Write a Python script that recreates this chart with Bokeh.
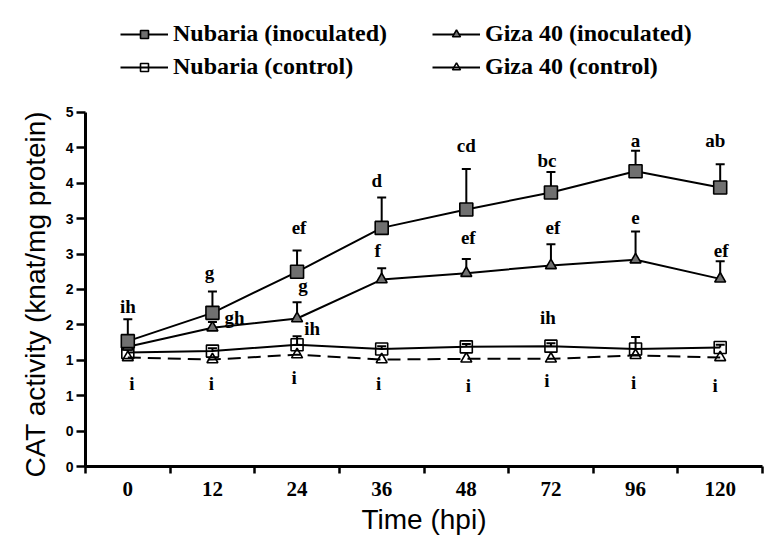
from bokeh.plotting import figure
from bokeh.models import (ColumnDataSource, Range1d, FixedTicker, CustomJSTickFormatter,
                          Whisker, TeeHead, Legend, LegendItem, Title)
from bokeh.core.properties import value
from bokeh.embed import file_html
from bokeh.resources import INLINE

# ---------------- data ----------------
hours = ["0", "12", "24", "36", "48", "72", "96", "120"]

nub_inoc = [1.77, 2.17, 2.75, 3.37, 3.63, 3.87, 4.17, 3.94]
nub_inoc_err = [0.31, 0.30, 0.30, 0.43, 0.57, 0.29, 0.29, 0.33]

giza_inoc = [1.69, 1.96, 2.09, 2.64, 2.73, 2.84, 2.92, 2.65]
giza_inoc_err = [0.06, 0.08, 0.23, 0.16, 0.20, 0.30, 0.40, 0.25]

nub_ctrl = [1.61, 1.63, 1.72, 1.66, 1.69, 1.70, 1.66, 1.68]
nub_ctrl_err = [0.04, 0.04, 0.12, 0.04, 0.04, 0.04, 0.17, 0.04]

giza_ctrl = [1.54, 1.51, 1.58, 1.51, 1.52, 1.52, 1.57, 1.54]

# letter annotations: text, category index, x offset (px), y position
ann_text = ["ih", "g", "ef", "d", "cd", "bc", "a", "ab",
            "gh", "g", "f", "ef", "ef", "e", "ef",
            "ih", "ih",
            "i", "i", "i", "i", "i", "i", "i", "i"]
ann_idx = [0, 1, 2, 3, 4, 5, 6, 7,
           1, 2, 3, 4, 5, 6, 7,
           2, 5,
           0, 1, 2, 3, 4, 5, 6, 7]
ann_dx = [0, -3, 2, -5, 0, -4, 0, -5,
          22, 6, -4, 2, 2, 0, 1,
          15, -3,
          4, -1, -3, -3, 2, -4, -2, -5]
ann_y = [2.26, 2.74, 3.38, 4.04, 4.53, 4.32, 4.60, 4.60,
         2.10, 2.56, 3.05, 3.23, 3.38, 3.52, 3.05,
         1.95, 2.10,
         1.17, 1.17, 1.26, 1.17, 1.14, 1.21, 1.19, 1.14]

y_ticks = [0, 0.5, 1, 1.5, 2, 2.5, 3, 3.5, 4, 4.5, 5]

# ---------------- figure ----------------
xc = [i + 0.5 for i in range(len(hours))]

p = figure(width=771, height=543, output_backend="svg", toolbar_location=None,
           x_range=Range1d(0, len(hours)), y_range=Range1d(0, 6.44),
           min_border_left=85, min_border_right=9, min_border_top=10, min_border_bottom=77)
p.outline_line_color = None
p.xgrid.visible = False
p.ygrid.visible = False
p.background_fill_color = "white"

src = ColumnDataSource(dict(x=xc, hours=hours,
                            ni=nub_inoc, ni_up=[v + e for v, e in zip(nub_inoc, nub_inoc_err)],
                            gi=giza_inoc, gi_up=[v + e for v, e in zip(giza_inoc, giza_inoc_err)],
                            nc=nub_ctrl, nc_up=[v + e for v, e in zip(nub_ctrl, nub_ctrl_err)],
                            gc=giza_ctrl))

# error bars (drawn under)
for base, up in [("ni", "ni_up"), ("gi", "gi_up"), ("nc", "nc_up")]:
    w = Whisker(source=src, base="x", lower=base, upper=up, dimension="height",
                line_color="black", line_width=2,
                upper_head=TeeHead(size=9, line_width=2, line_color="black"),
                lower_head=None, level="underlay")
    p.add_layout(w)

# lines
l_gc = p.line("x", "gc", source=src, line_color="black", line_width=2, line_dash="13 7")
l_nc = p.line("x", "nc", source=src, line_color="black", line_width=2)
l_gi = p.line("x", "gi", source=src, line_color="black", line_width=2)
l_ni = p.line("x", "ni", source=src, line_color="black", line_width=2)
# solid line used only for the legend swatch of Giza 40 (control); it has no drawable point
nan = float("nan")
l_gc_key = p.line(x=[nan, nan], y=[nan, nan], line_color="black", line_width=2)

# markers
m_gc = p.scatter("x", "gc", source=src, marker="triangle", size=11, fill_alpha=0,
                 line_color="black", line_width=1.6)
m_nc = p.scatter("x", "nc", source=src, marker="square", size=12, fill_alpha=0,
                 line_color="black", line_width=1.6)
m_gi = p.scatter("x", "gi", source=src, marker="triangle", size=11, fill_color="#707070",
                 line_color="black", line_width=1.6)
m_ni = p.scatter("x", "ni", source=src, marker="square", size=13, fill_color="#707070",
                 line_color="black", line_width=1.6)

# letter annotations
asrc = ColumnDataSource(dict(x=[ann_idx[i] + 0.5 for i in range(len(ann_idx))],
                             y=ann_y, t=ann_text, dx=ann_dx))
p.text("x", "y", text="t", source=asrc, x_offset="dx", text_align="center",
       text_baseline="middle", text_font=value("Liberation Serif"),
       text_font_style="bold", text_font_size="19px", text_color="black")

# ---------------- axes ----------------
p.xaxis.ticker = FixedTicker(ticks=xc, minor_ticks=list(range(len(hours) + 1)))
p.xaxis.formatter = CustomJSTickFormatter(args=dict(labels=hours),
                                          code="return labels[Math.floor(tick)];")
p.xaxis.major_tick_line_color = None
p.xaxis.minor_tick_out = 7
p.xaxis.minor_tick_in = 0
p.xaxis.minor_tick_line_width = 2.5
p.xaxis.minor_tick_line_color = "black"
p.xaxis.axis_line_width = 3
p.xaxis.axis_line_color = "black"
p.xaxis.major_label_text_font = "Liberation Serif"
p.xaxis.major_label_text_font_style = "bold"
p.xaxis.major_label_text_font_size = "21px"
p.xaxis.major_label_text_color = "black"
p.xaxis.major_label_standoff = 8
p.xaxis.axis_label = "Time (hpi)"
p.xaxis.axis_label_text_font = "Liberation Sans"
p.xaxis.axis_label_text_font_style = "normal"
p.xaxis.axis_label_text_font_size = "28px"
p.xaxis.axis_label_text_color = "black"
p.xaxis.axis_label_standoff = 5

p.yaxis.bounds = (0, 5)
p.yaxis.ticker = FixedTicker(ticks=y_ticks, minor_ticks=[])
p.yaxis.formatter = CustomJSTickFormatter(code="return Math.floor(tick + 1e-9).toString();")
p.yaxis.major_tick_out = 9
p.yaxis.major_tick_in = 0
p.yaxis.major_tick_line_width = 2.5
p.yaxis.major_tick_line_color = "black"
p.yaxis.axis_line_width = 3
p.yaxis.axis_line_color = "black"
p.yaxis.major_label_text_font = "Liberation Sans"
p.yaxis.major_label_text_font_style = "bold"
p.yaxis.major_label_text_font_size = "14px"
p.yaxis.major_label_text_color = "black"
p.yaxis.major_label_standoff = 3

ytitle = Title(text="CAT activity (knat/mg protein)", align="left", offset=-11,
               text_font="Liberation Sans", text_font_style="normal",
               text_font_size="28px", text_color="black", standoff=24)
p.add_layout(ytitle, "left")

# ---------------- legend ----------------
legend = Legend(items=[
    LegendItem(label="Nubaria (inoculated)", renderers=[l_ni, m_ni]),
    LegendItem(label="Nubaria (control)", renderers=[l_nc, m_nc]),
    LegendItem(label="Giza 40 (inoculated)", renderers=[l_gi, m_gi]),
    LegendItem(label="Giza 40 (control)", renderers=[l_gc_key, m_gc]),
], nrows=2, location=(35, 386), padding=0, margin=0, spacing=6,
    glyph_width=48, glyph_height=20, label_standoff=5, label_width=253,
    label_height=20,
    label_text_font="Liberation Serif", label_text_font_style="bold",
    label_text_font_size="24px", label_text_color="black",
    border_line_color=None, background_fill_alpha=0)
p.add_layout(legend, "center")

open("out.html", "w").write(file_html(p, INLINE))
